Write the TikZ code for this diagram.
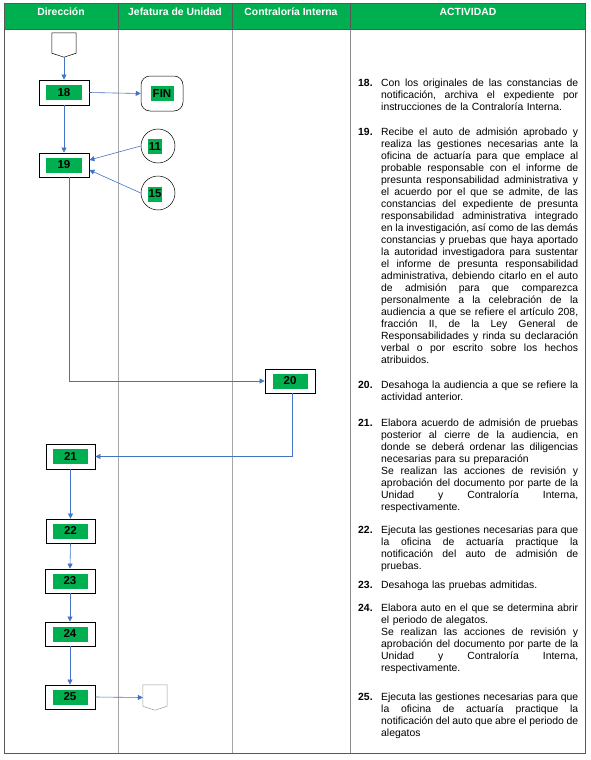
\documentclass[tikz,border=0pt]{standalone}
\usepackage{fontspec}
\setmainfont{Liberation Sans}
\usetikzlibrary{arrows.meta}
\definecolor{hdrgreen}{HTML}{00B050}
\definecolor{lnblue}{HTML}{4472C4}
\definecolor{framegray}{HTML}{595959}
\definecolor{colgray}{HTML}{A6A6A6}
\newcommand\jl[1]{\leavevmode\hbox to 197pt{\frenchspacing\spaceskip=0.278em plus 1fil minus 0.12em\relax #1}}
\newcommand\gl[2][36pt]{{\setlength{\fboxsep}{0pt}\colorbox{hdrgreen}{\makebox[#1]{\rule[-4pt]{0pt}{15pt}\fontsize{11.5}{12}\selectfont\bfseries #2}}}}
\begin{document}
\begin{tikzpicture}[x=1pt,y=-1pt,
  font=\fontsize{10.4}{12}\selectfont,
  proc/.style={draw=black, line width=0.8pt, minimum width=50pt, minimum height=24pt, inner sep=0pt, fill=white},
  arr/.style={draw=lnblue, line width=0.6pt, -{Triangle[length=5pt,width=5pt]}},
  hdr/.style={text=white, font=\fontsize{10.4}{12}\selectfont\bfseries, anchor=base, inner sep=0pt},
  item/.style={anchor=base west, text width=197pt, align=left, inner sep=0pt},
  num/.style={anchor=base west, inner sep=0pt, font=\fontsize{10.4}{12}\selectfont\bfseries},
  offpage/.style={minimum width=24pt, minimum height=24pt, inner sep=0pt},
  ring/.style={circle, draw=black, line width=0.5pt, minimum size=34pt, inner sep=0pt}
]
\useasboundingbox (0,0) rectangle (590,760);
% header
\fill[hdrgreen] (4,3) rectangle (585,29);
\node[hdr] (h1) at (61,16) {Dirección};
\node[hdr] (h2) at (175,16) {Jefatura de Unidad};
\node[hdr] (h3) at (291,16) {Contraloría Interna};
\node[hdr] (h4) at (468,16) {ACTIVIDAD};
% grid
\draw[colgray, line width=0.6pt] (118,29) -- (118,753) (232,29) -- (232,753);
\draw[framegray!70, line width=0.6pt] (350,29) -- (350,753);
\draw[framegray, line width=0.6pt] (118,3) -- (118,29) (232,3) -- (232,29) (350,3) -- (350,29) (4,29) -- (585,29);
\draw[framegray, line width=0.8pt] (4,3) rectangle (585,753);

% flow nodes
\node[offpage] (s0) at (64,45) {};
\draw[black, line width=0.5pt] (s0.north west) -- (s0.north east) -- ([yshift=4pt]s0.south east) -- (s0.south) -- ([yshift=4pt]s0.south west) -- cycle;
\node[proc, minimum height=25pt] (b18) at (64,92.5) {\gl{18}};
\node[draw=black, line width=0.5pt, rounded corners=9pt, minimum width=42pt, minimum height=35pt, inner sep=0pt] (fin) at (162,93.5) {\gl[23pt]{FIN}};
\node[proc] (b19) at (64,165) {\gl{19}};
\node[ring] (c11) at (158,146) {};
\node[inner sep=0pt] (l11) at (155,146.5) {\gl[14pt]{11}};
\node[ring] (c15) at (158,193) {};
\node[inner sep=0pt] (l15) at (155,194) {\gl[14pt]{15}};
\node[proc] (b20) at (290,381) {\gl[35pt]{20}};
\node[proc, minimum width=49pt, minimum height=25pt] (b21) at (70.5,456.5) {\gl[35pt]{21}};
\node[proc, minimum width=49pt] (b22) at (70.5,531) {\gl[35pt]{22}};
\node[proc] (b23) at (70,581) {\gl[35pt]{23}};
\node[proc] (b24) at (70,634) {\gl[35pt]{24}};
\node[proc] (b25) at (70,697) {\gl[35pt]{25}};
\node[offpage, minimum height=25pt] (s1) at (155,697.5) {};
\draw[framegray!60, line width=0.5pt] (s1.north west) -- (s1.north east) -- ([yshift=4pt]s1.south east) -- (s1.south) -- ([yshift=4pt]s1.south west) -- cycle;

% connectors
\draw[arr] (s0.south) -- (b18.north);
\draw[arr] (b18.east) -- (fin.west);
\draw[arr] (b18.south) -- (b19.north);
\draw[arr] (c11.west) -- ([yshift=5pt]b19.east);
\draw[arr] (c15.west) -- ([yshift=-5pt]b19.east);
\draw[arr] ([xshift=5pt]b19.south) |- (b20.west);
\draw[arr] ([xshift=2pt]b20.south) |- (b21.east);
\draw[arr] (b21.south) -- (b22.north);
\draw[arr] (b22.south) -- (b23.north);
\draw[arr] (b23.south) -- (b24.north);
\draw[arr] (b24.south) -- (b25.north);
\draw[arr] (b25.east) -- (s1.west);

% activity text
\node[num] (n18) at (358,86.5) {18.};
\node[item] (t18) at (381,86.5) {\jl{Con los originales de las constancias de}\\
\jl{notificación, archiva el expediente por}\\
instrucciones de la Contraloría Interna.};

\node[num] (n19) at (358,135.5) {19.};
\node[item] (t19) at (381,135.5) {\jl{Recibe el auto de admisión aprobado y}\\
\jl{realiza las gestiones necesarias ante la}\\
\jl{oficina de actuaría para que emplace al}\\
\jl{probable responsable con el informe de}\\
\jl{presunta responsabilidad administrativa y}\\
\jl{el acuerdo por el que se admite, de las}\\
\jl{constancias del expediente de presunta}\\
\jl{responsabilidad administrativa integrado}\\
\jl{en la investigación, así como de las demás}\\
\jl{constancias y pruebas que haya aportado}\\
\jl{la autoridad investigadora para sustentar}\\
\jl{el informe de presunta responsabilidad}\\
\jl{administrativa, debiendo citarlo en el auto}\\
\jl{de admisión para que comparezca}\\
\jl{personalmente a la celebración de la}\\
\jl{audiencia a que se refiere el artículo 208,}\\
\jl{fracción II, de la Ley General de}\\
\jl{Responsabilidades y rinda su declaración}\\
\jl{verbal o por escrito sobre los hechos}\\
atribuidos.};

\node[num] (n20) at (358,388.5) {20.};
\node[item] (t20) at (381,388.5) {\jl{Desahoga la audiencia a que se refiere la}\\
actividad anterior.};

\node[num] (n21) at (358,426.5) {21.};
\node[item] (t21) at (381,426.5) {\jl{Elabora acuerdo de admisión de pruebas}\\
\jl{posterior al cierre de la audiencia, en}\\
\jl{donde se deberá ordenar las diligencias}\\
necesarias para su preparación\\
\jl{Se realizan las acciones de revisión y}\\
\jl{aprobación del documento por parte de la}\\
\jl{Unidad y Contraloría Interna,}\\
respectivamente.};

\node[num] (n22) at (358,533.5) {22.};
\node[item] (t22) at (381,533.5) {\jl{Ejecuta las gestiones necesarias para que}\\
\jl{la oficina de actuaría practique la}\\
\jl{notificación del auto de admisión de}\\
pruebas.};

\node[num] (n23) at (358,588.5) {23.};
\node[item] (t23) at (381,588.5) {Desahoga las pruebas admitidas.};

\node[num] (n24) at (358,611.5) {24.};
\node[item] (t24) at (381,611.5) {\jl{Elabora auto en el que se determina abrir}\\
el periodo de alegatos.\\
\jl{Se realizan las acciones de revisión y}\\
\jl{aprobación del documento por parte de la}\\
\jl{Unidad y Contraloría Interna,}\\
respectivamente.};

\node[num] (n25) at (358,700.5) {25.};
\node[item] (t25) at (381,700.5) {\jl{Ejecuta las gestiones necesarias para que}\\
\jl{la oficina de actuaría practique la}\\
\jl{notificación del auto que abre el periodo de}\\
alegatos};
\end{tikzpicture}
\end{document}
